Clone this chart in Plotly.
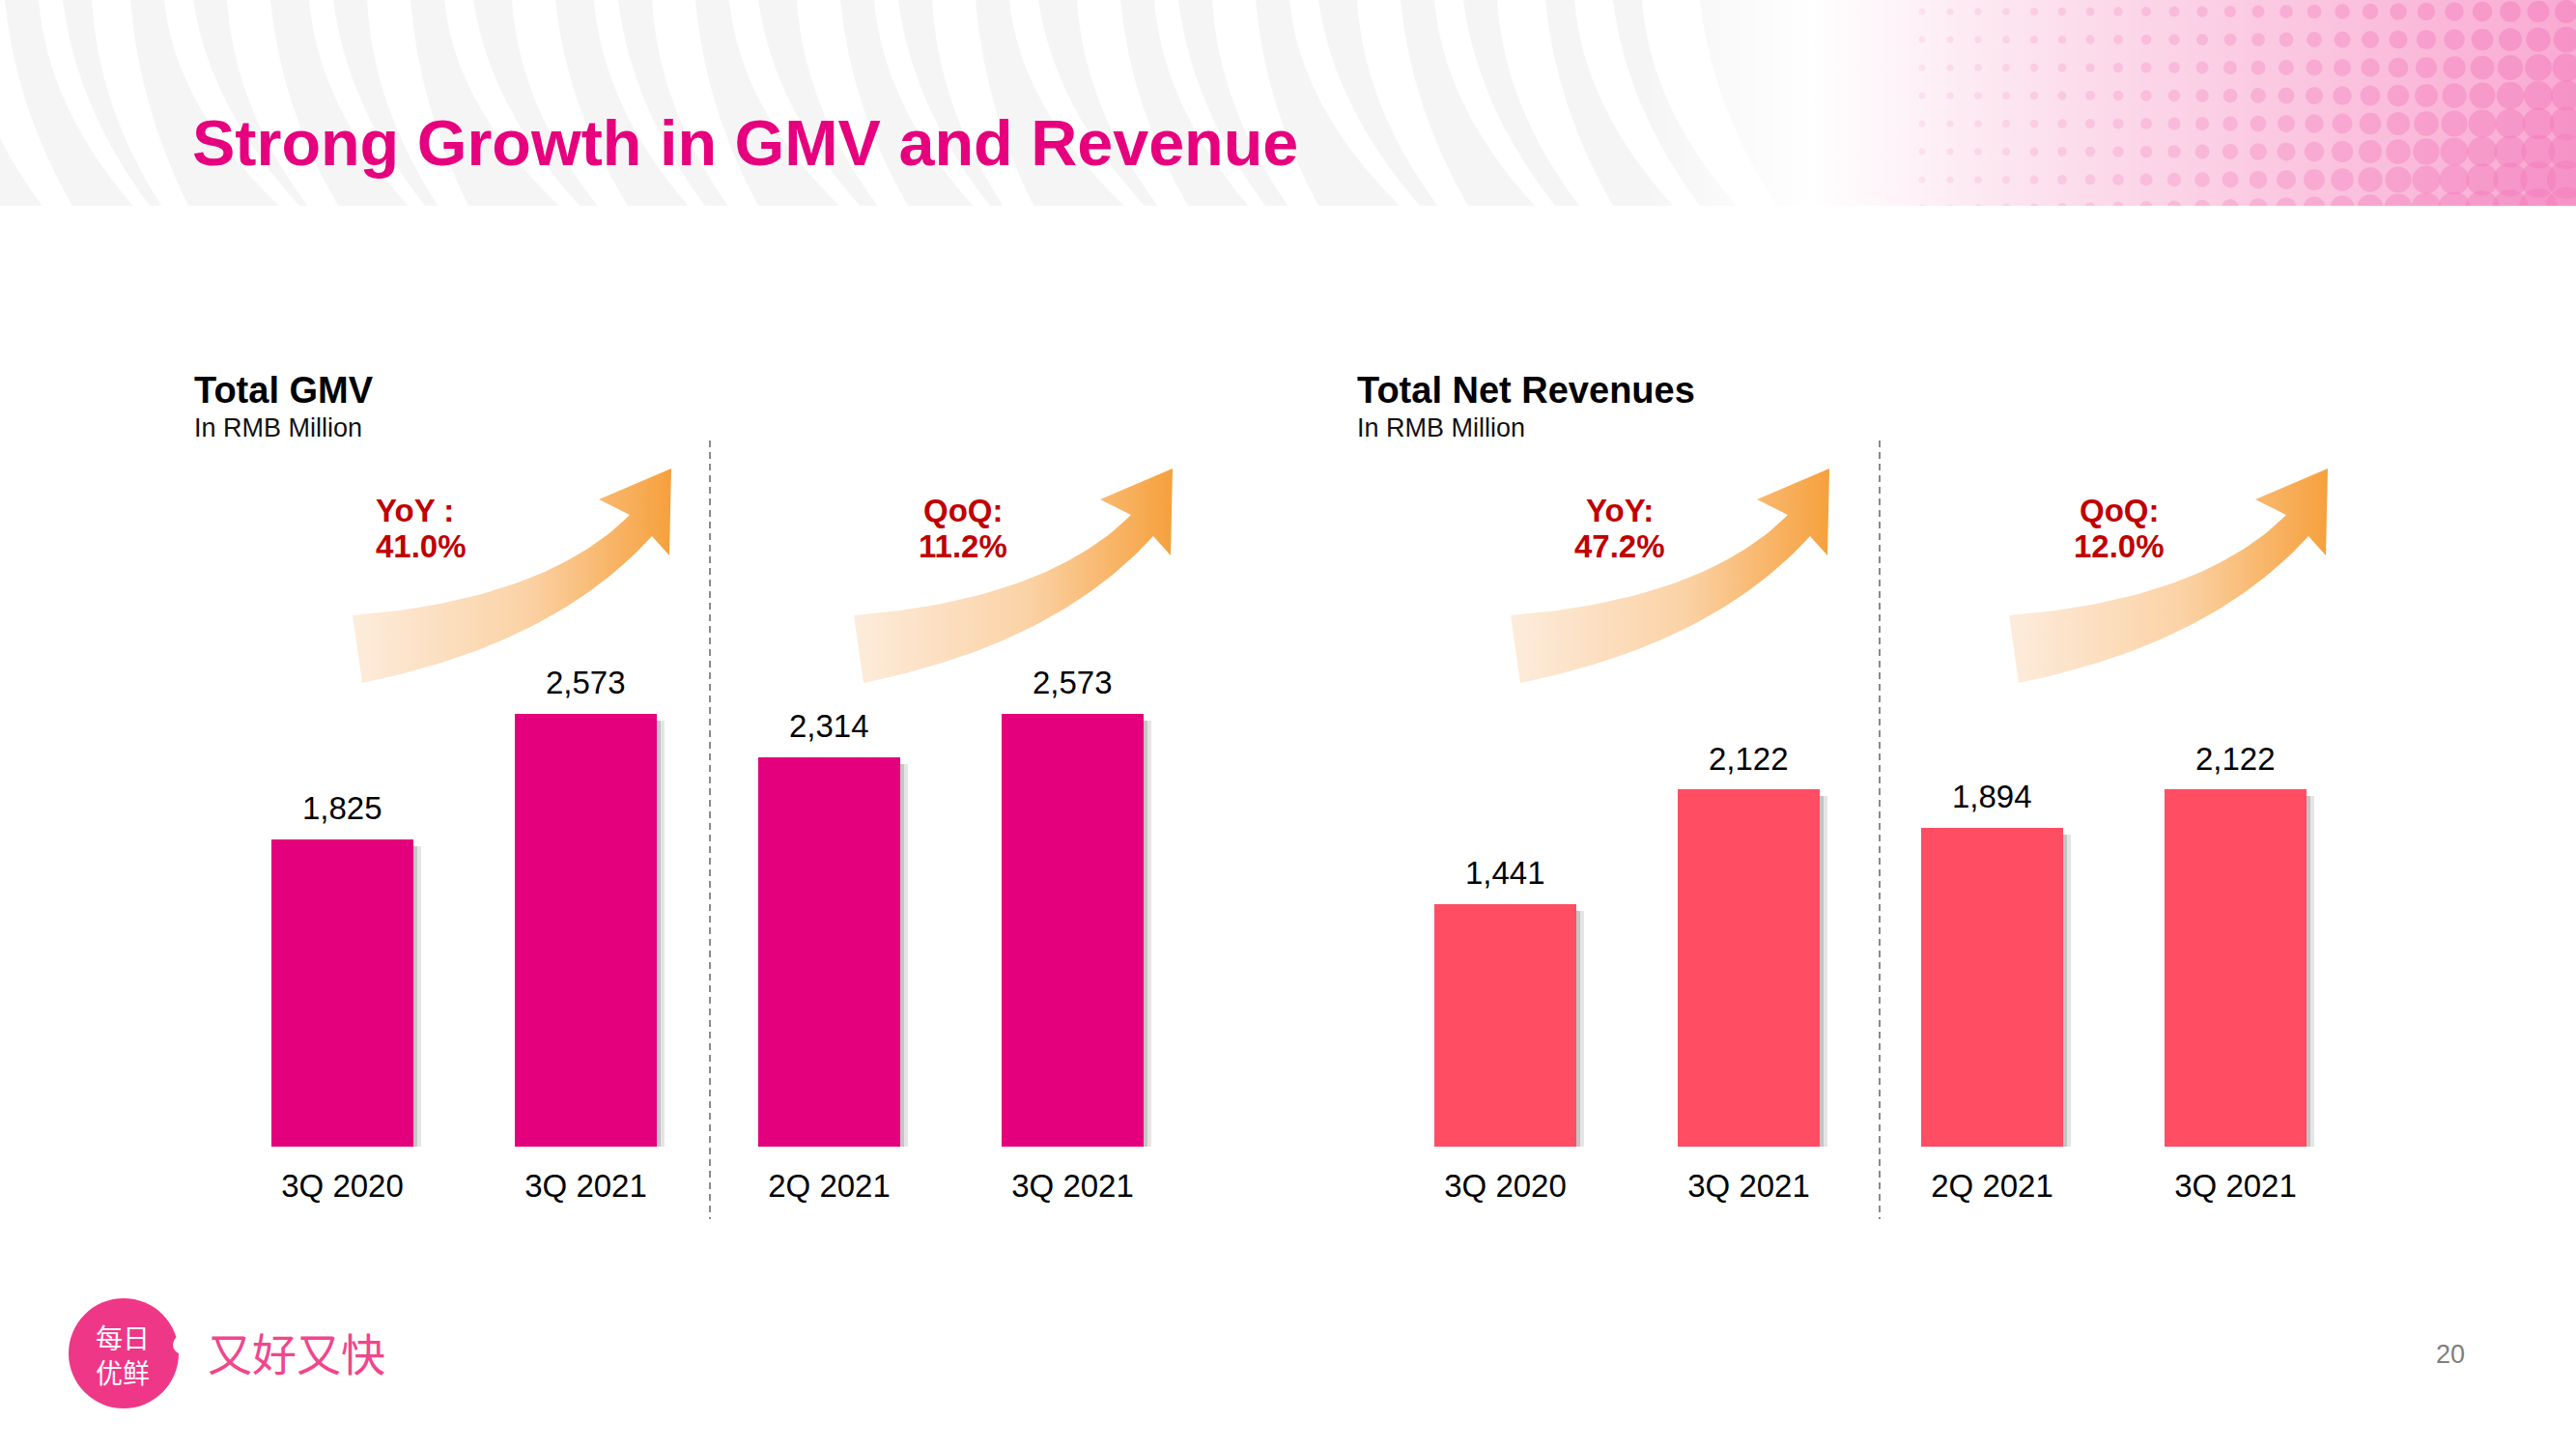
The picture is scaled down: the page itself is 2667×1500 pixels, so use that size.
import plotly.graph_objects as go

W, H = 2667, 1500

# ---------------- data ----------------
gmv_quarters = ["3Q 2020", "3Q 2021", "2Q 2021", "3Q 2021"]
gmv_values = [1825, 2573, 2314, 2573]
rev_quarters = ["3Q 2020", "3Q 2021", "2Q 2021", "3Q 2021"]
rev_values = [1441, 2122, 1894, 2122]
growth_kind = ["YoY :", "QoQ:", "YoY:", "QoQ:"]
growth_pct = ["41.0%", "11.2%", "47.2%", "12.0%"]
panel_titles = ["Total GMV", "Total Net Revenues"]
panel_units = ["In RMB Million", "In RMB Million"]

# ---------------- styling ----------------
FONT = "Liberation Sans, Arial, sans-serif"
CJK = "Noto Sans CJK SC"
GMV_COLOR = "#e4007c"
REV_COLOR = "#ff4d64"
RED = "#c00000"
MAGENTA = "#e6007e"

BASE_PX = 1187.0          # pixel row of the bar baseline
PX_PER_UNIT = 0.1743      # vertical scale
TOP_PX = 600.0
YMAX = (BASE_PX - TOP_PX) / PX_PER_UNIT
STEP = 252.0              # px between bar centres
BAR_W = 0.583

fig = go.Figure()


def quad(p0, c, p2, n=40):
    pts = []
    for i in range(n + 1):
        t = i / n
        x = (1 - t) ** 2 * p0[0] + 2 * (1 - t) * t * c[0] + t ** 2 * p2[0]
        y = (1 - t) ** 2 * p0[1] + 2 * (1 - t) * t * c[1] + t ** 2 * p2[1]
        pts.append((x, y))
    return pts


shapes = []
# banner base
shapes.append(dict(type="rect", xref="x", yref="y", x0=0, x1=W, y0=0, y1=213,
                   fillcolor="#f5f5f5", line=dict(width=0), layer="below"))
# white wavy stripes (zebra-like texture)
stripe_specs = [(-40, 45, 70), (40, 25, 90), (95, 40, 60), (170, 30, 110), (235, 45, 70),
                (320, 25, 95), (380, 45, 60), (460, 30, 110), (530, 45, 75), (615, 25, 90),
                (675, 45, 65), (755, 30, 105), (825, 45, 70), (905, 25, 95), (965, 45, 60),
                (1045, 30, 110), (1115, 45, 70), (1195, 25, 90), (1255, 45, 65), (1335, 30, 105),
                (1405, 45, 70), (1485, 30, 95), (1550, 50, 70), (1630, 40, 90), (1700, 60, 80)]
for x0, w, dx in stripe_specs:
    path = (f"M {x0},0 L {x0 + w},0 Q {x0 + w + dx * 0.15},110 {x0 + w + dx},213 "
            f"L {x0 + dx + w * 0.3},213 Q {x0 + dx * 0.1},110 {x0},0 Z")
    shapes.append(dict(type="path", xref="x", yref="y", path=path,
                       fillcolor="#ffffff", line=dict(width=0), layer="below"))

# pink gradient region of the banner
fig.add_trace(go.Scatter(
    x=[1700, W, W, 1700, 1700], y=[0, 0, 213, 213, 0], mode="lines", fill="toself",
    line=dict(width=0, color="rgba(0,0,0,0)"),
    fillgradient=dict(type="horizontal", colorscale=[
        [0, "rgba(255,255,255,0)"], [0.18, "rgba(255,255,255,0.97)"],
        [0.45, "rgba(252,222,236,1)"], [1, "rgba(249,170,210,1)"]]),
    hoverinfo="skip", showlegend=False, xaxis="x", yaxis="y"))

# decorative dots
dx_, dy_, ds_, dc_ = [], [], [], []
xx = 1990
while xx <= W + 10:
    yy = 12
    while yy <= 215:
        fx = (xx - 1990) / (W - 1990)
        fy = yy / 213
        s = 7 + 36 * (fx ** 1.6) * (0.45 + 0.55 * fy)
        a = 0.2 + 0.55 * fx
        dx_.append(xx)
        dy_.append(yy)
        ds_.append(s)
        dc_.append(f"rgba(243,125,188,{a:.2f})")
        yy += 29
    xx += 29
fig.add_trace(go.Scatter(x=dx_, y=dy_, mode="markers",
                         marker=dict(size=ds_, color=dc_, line=dict(width=0)),
                         hoverinfo="skip", showlegend=False, xaxis="x", yaxis="y"))
shapes.append(dict(type="rect", xref="x", yref="y", x0=1900, x1=W, y0=213, y1=240,
                   fillcolor="#ffffff", line=dict(width=0), layer="above"))

# arrows
upper = quad((365, 637), (564, 621), (652, 533))
head = [(620, 517), (695, 485), (693, 575), (675, 555)]
lower = quad((675, 555), (573, 667), (375, 707))
arrow = upper + head + lower + [(365, 637)]
arrow_offsets = [0, 519, 1199, 1715]
for off in arrow_offsets:
    fig.add_trace(go.Scatter(
        x=[p[0] + off for p in arrow], y=[p[1] for p in arrow], mode="lines", fill="toself",
        line=dict(width=0, color="rgba(0,0,0,0)"),
        fillgradient=dict(type="horizontal", colorscale=[
            [0, "#fdecdc"], [0.55, "#fbd2a5"], [1, "#f6a03c"]]),
        hoverinfo="skip", showlegend=False, xaxis="x", yaxis="y"))

# dashed dividers
for xd in [735, 1946]:
    shapes.append(dict(type="line", xref="x", yref="y", x0=xd, x1=xd, y0=456, y1=1262,
                       line=dict(color="#8a8a8a", width=2, dash="7px,5px")))

# logo
shapes.append(dict(type="circle", xref="x", yref="y", x0=71, x1=185, y0=1344, y1=1458,
                   fillcolor="#ef3787", line=dict(width=0)))
shapes.append(dict(type="circle", xref="x", yref="y", x0=179, x1=199, y0=1382, y1=1402,
                   fillcolor="#ffffff", line=dict(width=0)))


# ---------------- bars ----------------
def add_panel(values, color, xa, ya):
    xs = list(range(len(values)))
    shadow_y = [v - 40 for v in values]
    fig.add_trace(go.Bar(x=xs, y=shadow_y, width=BAR_W, offset=-BAR_W / 2 + 0.03,
                         marker=dict(color="rgba(0,0,0,0.10)", line=dict(width=0)),
                         hoverinfo="skip", showlegend=False, xaxis=xa, yaxis=ya))
    fig.add_trace(go.Bar(x=xs, y=shadow_y, width=BAR_W, offset=-BAR_W / 2 + 0.018,
                         marker=dict(color="rgba(0,0,0,0.14)", line=dict(width=0)),
                         hoverinfo="skip", showlegend=False, xaxis=xa, yaxis=ya))
    fig.add_trace(go.Bar(x=xs, y=values, width=BAR_W,
                         marker=dict(color=color, line=dict(width=0)),
                         showlegend=False, xaxis=xa, yaxis=ya))


add_panel(gmv_values, GMV_COLOR, "x2", "y2")
add_panel(rev_values, REV_COLOR, "x3", "y3")

annotations = []
for vals, xr, yr in [(gmv_values, "x2", "y2"), (rev_values, "x3", "y3")]:
    for k, v in enumerate(vals):
        annotations.append(dict(x=k, y=v, xref=xr, yref=yr, text=f"{v:,}", showarrow=False,
                                yanchor="middle", yshift=32,
                                font=dict(family=FONT, size=33, color="#000000")))

# growth labels
label_x = [387, 997, 1677, 2194]
label_anchor = ["left", "center", "center", "center"]
for i in range(4):
    annotations.append(dict(x=label_x[i], y=528, xref="x", yref="y", text=f"<b>{growth_kind[i]}</b>",
                            showarrow=False, xanchor=label_anchor[i], yanchor="middle",
                            font=dict(family=FONT, size=33, color=RED)))
    annotations.append(dict(x=label_x[i], y=565, xref="x", yref="y", text=f"<b>{growth_pct[i]}</b>",
                            showarrow=False, xanchor=label_anchor[i], yanchor="middle",
                            font=dict(family=FONT, size=33, color=RED)))

# panel titles
for tx, t, u in zip([199, 1403], panel_titles, panel_units):
    annotations.append(dict(x=tx, y=404, xref="x", yref="y", text=f"<b>{t}</b>", showarrow=False,
                            xanchor="left", yanchor="middle",
                            font=dict(family=FONT, size=38, color="#000000")))
    annotations.append(dict(x=tx, y=443, xref="x", yref="y", text=u, showarrow=False,
                            xanchor="left", yanchor="middle",
                            font=dict(family=FONT, size=27, color="#111111")))

# main title
annotations.append(dict(x=197, y=148, xref="x", yref="y",
                        text="<b>Strong Growth in GMV and Revenue</b>", showarrow=False,
                        xanchor="left", yanchor="middle",
                        font=dict(family=FONT, size=66.5, color=MAGENTA)))

# logo text
annotations.append(dict(x=127, y=1402, xref="x", yref="y", text="每日<br>优鲜", showarrow=False,
                        xanchor="center", yanchor="middle", align="center",
                        font=dict(family=CJK, size=28, color="#ffffff")))
annotations.append(dict(x=307, y=1399, xref="x", yref="y", text="又好又快", showarrow=False,
                        xanchor="center", yanchor="middle",
                        font=dict(family=CJK, size=46, color="#f0468c")))
# page number
annotations.append(dict(x=2537, y=1402, xref="x", yref="y", text="20", showarrow=False,
                        xanchor="center", yanchor="middle",
                        font=dict(family=FONT, size=27, color="#7f7f7f")))

ydom = [1 - BASE_PX / H, 1 - TOP_PX / H]
gx0 = 354.5 - STEP / 2
rx0 = 1558.5 - STEP / 2

fig.update_layout(
    width=W, height=H, margin=dict(l=0, r=0, t=0, b=0),
    paper_bgcolor="#ffffff", plot_bgcolor="rgba(0,0,0,0)",
    barmode="overlay", bargap=0,
    xaxis=dict(domain=[0, 1], range=[0, W], visible=False, fixedrange=True),
    yaxis=dict(domain=[0, 1], range=[H, 0], visible=False, fixedrange=True),
    xaxis2=dict(domain=[gx0 / W, (gx0 + 4 * STEP) / W], range=[-0.5, 3.5], anchor="y2",
                tickvals=[0, 1, 2, 3], ticktext=gmv_quarters, showgrid=False, zeroline=False,
                showline=False, ticks="", ticklabelstandoff=18,
                tickfont=dict(family=FONT, size=33, color="#000000")),
    yaxis2=dict(domain=ydom, range=[0, YMAX], anchor="x2", visible=False),
    xaxis3=dict(domain=[rx0 / W, (rx0 + 4 * STEP) / W], range=[-0.5, 3.5], anchor="y3",
                tickvals=[0, 1, 2, 3], ticktext=rev_quarters, showgrid=False, zeroline=False,
                showline=False, ticks="", ticklabelstandoff=18,
                tickfont=dict(family=FONT, size=33, color="#000000")),
    yaxis3=dict(domain=ydom, range=[0, YMAX], anchor="x3", visible=False),
    shapes=shapes, annotations=annotations,
)

fig.write_html("out.html", config={"displayModeBar": False, "staticPlot": True},
               post_script="document.body.style.margin='0';")
